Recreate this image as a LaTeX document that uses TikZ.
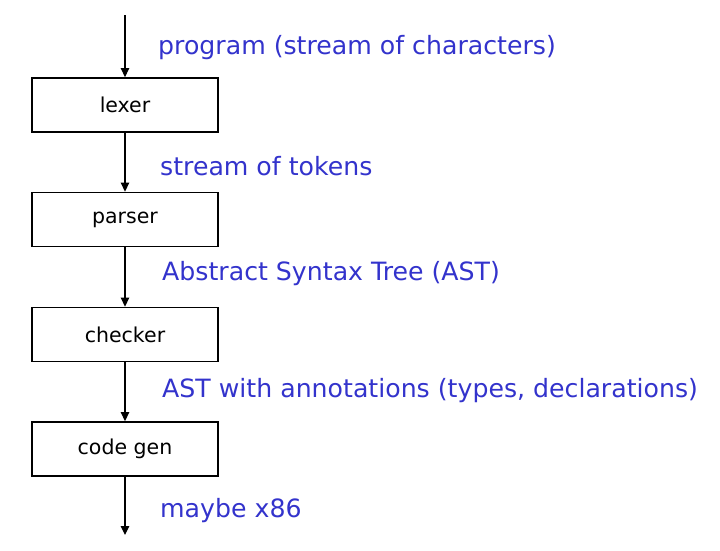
\documentclass[tikz,border=0pt]{standalone}
\usepackage{fontspec}
\setmainfont{DejaVu Sans}
\usetikzlibrary{arrows.meta}
\definecolor{lblue}{RGB}{51,51,204}
\begin{document}
\begin{tikzpicture}[x=1pt,y=-1pt,
  stage/.style={draw=black,line width=1.8pt,minimum width=186pt,minimum height=54pt,inner sep=0pt,font=\fontsize{20.5}{24}\selectfont},
  flow/.style={line width=1.2pt,-{Triangle[length=9pt,width=8.5pt]}},
  lbl/.style={anchor=west,text=lblue,inner sep=0pt,font=\fontsize{25.2}{30}\selectfont}]
\useasboundingbox (0,0) rectangle (720,550);
\coordinate (top) at (125,15);
\node[stage] (lexer) at (125,105) {lexer};
\node[stage] (parser) at (125,219.5) {parser};
\node[stage] (checker) at (125,334.5) {checker};
\node[stage] (codegen) at (125,449) {code gen};
\coordinate (bot) at (125,535);
\draw[flow] (top) -- (lexer.north);
\draw[flow] (lexer.south) -- (parser.north);
\draw[flow] (parser.south) -- (checker.north);
\draw[flow] (checker.south) -- (codegen.north);
\draw[flow] (codegen.south) -- (bot);
\node[lbl] (l1) at (158,48) {program (stream of characters)};
\node[lbl] (l2) at (160,166) {stream of tokens};
\node[lbl] (l3) at (162,274) {Abstract Syntax Tree (AST)};
\node[lbl] (l4) at (162,391) {AST with annotations (types, declarations)};
\node[lbl] (l5) at (160,511) {maybe x86};
\end{tikzpicture}
\end{document}
